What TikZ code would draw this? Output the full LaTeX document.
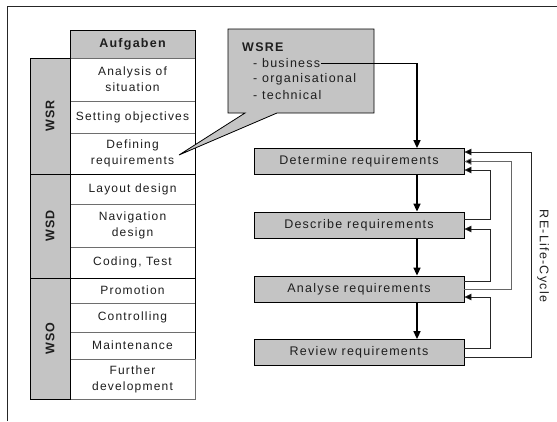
\documentclass[tikz,border=0pt]{standalone}
\usepackage{fontspec}
\setmainfont{Liberation Sans}[LetterSpace=10]
\usetikzlibrary{arrows.meta,calc}
\definecolor{boxgray}{RGB}{196,196,196}
\definecolor{txt}{RGB}{30,30,30}
\definecolor{sepgray}{RGB}{110,110,110}
\begin{document}
\begin{tikzpicture}[x=1pt,y=-1pt,
  every node/.style={font=\fontsize{12}{16}\selectfont, text=txt},
  cell/.style={draw=sepgray, line width=0.8pt, fill=white, minimum width=125pt, inner sep=0pt, align=center},
  side/.style={draw=black, line width=0.8pt, fill=boxgray, rotate=90, minimum height=40pt, inner sep=0pt, font=\fontsize{12.5}{14}\selectfont\bfseries},
  reqbox/.style={draw=black, line width=0.8pt, fill=boxgray, minimum width=210pt, minimum height=26pt, inner sep=0pt, font=\fontsize{12.5}{15}\selectfont},
  mainarrow/.style={draw=black, line width=1.6pt, -{Triangle[width=7pt,length=8pt]}},
  fb/.style={draw=black!85, line width=0.8pt, -{Triangle[width=6.5pt,length=7pt,fill=black]}},
  itemtxt/.style={anchor=west, inner sep=1pt, font=\fontsize{12.5}{15}\selectfont}
]
\useasboundingbox (0,0) rectangle (557,421);
% frame
\draw[line width=0.8pt, black!85] (7,421) -- (7,6) -- (557,6);

% table header
\node[draw=black, line width=0.8pt, fill=boxgray, minimum width=125pt, minimum height=28pt, inner sep=0pt,
      font=\fontsize{12.5}{14}\selectfont\bfseries] (auf) at (132.5,44) {Aufgaben};
% table cells
\node[cell, minimum height=43pt] (c1) at (132.5,79.5) {Analysis of\\situation};
\node[cell, minimum height=32pt] (c2) at (132.5,117) {Setting objectives};
\node[cell, minimum height=41pt] (c3) at (132.5,153.5) {Defining\\requirements};
\node[cell, minimum height=30pt] (c4) at (132.5,189) {Layout design};
\node[cell, minimum height=43pt] (c5) at (132.5,225.5) {Navigation\\design};
\node[cell, minimum height=31pt] (c6) at (132.5,262.5) {Coding, Test};
\node[cell, minimum height=25pt] (c7) at (132.5,290.5) {Promotion};
\node[cell, minimum height=29pt] (c8) at (132.5,317.5) {Controlling};
\node[cell, minimum height=27pt] (c9) at (132.5,345.5) {Maintenance};
\node[cell, minimum height=40pt] (c10) at (132.5,379) {Further\\development};
% group borders
\draw[black, line width=0.8pt] (c1.north east) -- (c9.south east);
\draw[sepgray, line width=0.8pt] (c10.north east) -- (c10.south east);
\draw[black, line width=0.8pt] (c3.south west) -- (c3.south east);
\draw[black, line width=0.8pt] (c6.south west) -- (c6.south east);
% side cells
\node[side, minimum width=116pt] (wsr) at (50,116) {WSR};
\node[side, minimum width=104pt] (wsd) at (50,226) {WSD};
\node[side, minimum width=121pt] (wso) at (50,338.5) {WSO};

% callout
\path[draw=black, line width=0.8pt, fill=boxgray]
  (228,29) -- (374,29) -- (374,113) -- (277,113) -- (179,155) -- (245,113) -- (228,113) -- cycle;
\node[anchor=west, inner sep=0pt, font=\fontsize{12.5}{14}\selectfont\bfseries] (wsre) at (242,47) {WSRE};
\node[itemtxt] (bus) at (252,63) {- business};
\node[itemtxt] (org) at (252,79) {- organisational};
\node[itemtxt] (tec) at (252,95) {- technical};

% requirement boxes
\node[reqbox] (det) at (359,161.5) {Determine requirements};
\node[reqbox] (des) at (359,225) {Describe requirements};
\node[reqbox] (ana) at (359,289) {Analyse requirements};
\node[reqbox] (rev) at (359,352.5) {Review requirements};

% main arrows
\draw[line width=0.8pt, black] (bus.east) -- (417,63);
\draw[mainarrow] (417,63) -- ([xshift=58pt]det.north);
\draw[mainarrow] ([xshift=58pt]det.south) -- ([xshift=58pt]des.north);
\draw[mainarrow] ([xshift=58pt]des.south) -- ([xshift=58pt]ana.north);
\draw[mainarrow] ([xshift=58pt]ana.south) -- ([xshift=58pt]rev.north);

% feedback
\draw[fb] ([yshift=6pt]des.east) -- ++(26,0) |- ([yshift=-8.5pt]det.east);
\draw[fb] ([yshift=8pt]ana.east) -- ++(26,0) |- ([yshift=-4pt]des.east);
\draw[fb, draw=black!60] (ana.east) -- ++(47,0) |- (det.east);
\draw[fb] ([yshift=4.5pt]rev.east) -- ++(26,0) |- ([yshift=-8pt]ana.east);
\draw[fb] ([yshift=-4.5pt]rev.east) -- ++(67,0) |- ([yshift=9.5pt]det.east);

\node[rotate=-90, inner sep=0pt, font=\fontsize{12.5}{15}\selectfont] (rlc) at (543,256) {RE-Life-Cycle};
\end{tikzpicture}
\end{document}
